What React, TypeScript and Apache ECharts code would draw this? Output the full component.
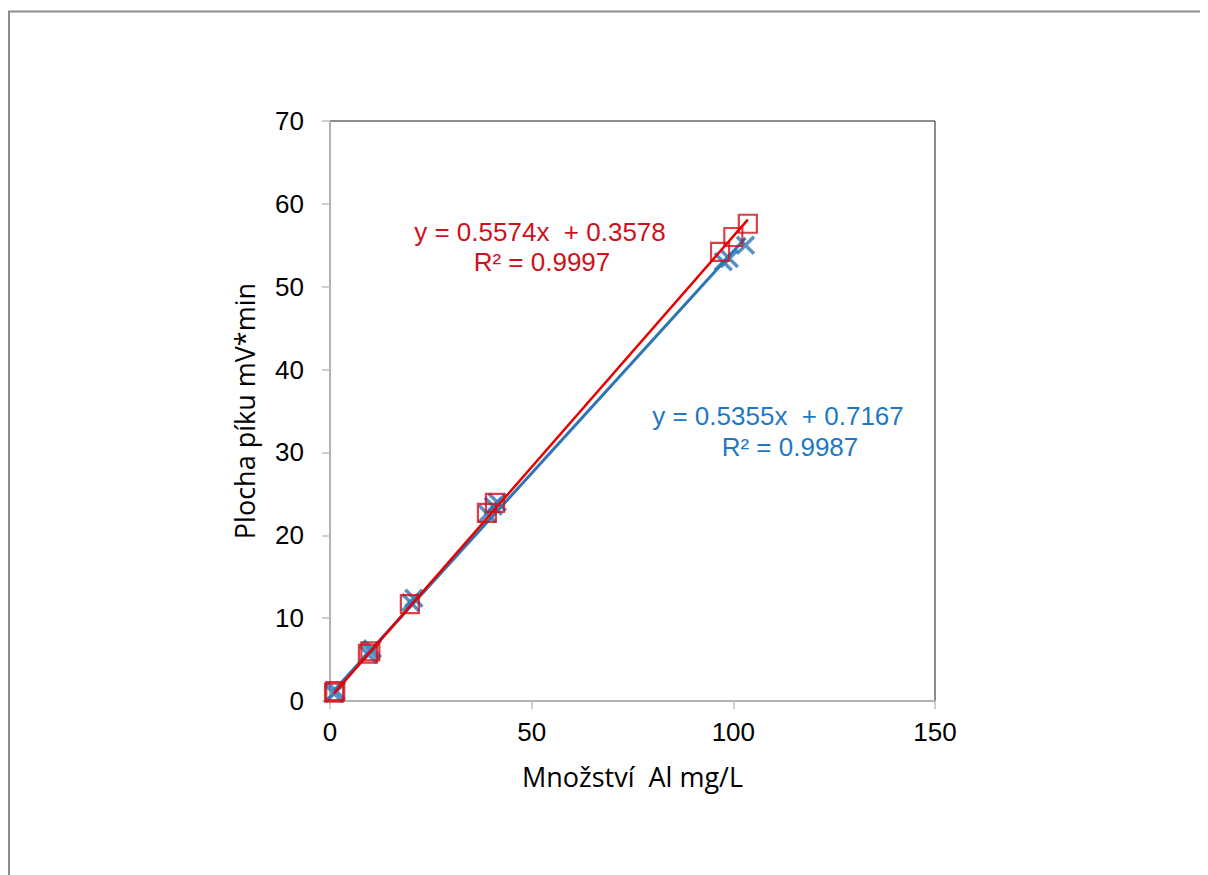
import React, { useEffect, useRef } from "react";
import * as echarts from "echarts";

// Blue series (×)
const blueX = [1.0, 1.5, 9.5, 10.0, 10.5, 20.0, 20.8, 39.0, 40.5, 41.5, 97.5, 99.0, 103.0];
const blueY = [0.9, 1.2, 5.6, 6.0, 6.3, 11.9, 12.4, 22.6, 23.5, 24.0, 53.0, 53.4, 55.0];
// Red series (□)
const redX = [1.0, 1.3, 9.4, 10.0, 19.8, 38.9, 40.9, 96.7, 100.0, 103.6];
const redY = [1.0, 1.2, 5.7, 6.0, 11.7, 22.7, 23.9, 54.2, 56.0, 57.6];

// Regression coefficients [slope, intercept]
const blueFit = [0.5355, 0.7167];
const redFit = [0.5574, 0.3578];

const blueEqn = ["y = 0.5355x  + 0.7167", "R² = 0.9987"];
const redEqn = ["y = 0.5574x  + 0.3578", "R² = 0.9997"];

const xTitle = "Množství  Al mg/L";
const yTitle = "Plocha píku mV*min";

const BLUE = "#2e75b6";
const RED = "#e80000";
const RED_MARK = "#d0101a";

function fitLine(xs: number[], fit: number[]) {
  const lo = Math.min(...xs);
  const hi = Math.max(...xs);
  return [
    [lo, fit[0] * lo + fit[1]],
    [hi, fit[0] * hi + fit[1]],
  ];
}

export default function App() {
  const ref = useRef<HTMLDivElement>(null);
  useEffect(() => {
    if (!ref.current) return;
    const chart = echarts.init(ref.current, null, { renderer: "svg" });
    const font = "'Liberation Sans', Arial, sans-serif";
    const titleFont = "'Open Sans', 'Liberation Sans', sans-serif";
    const eq = (text: string, x: number, y: number, fill: string) => ({
      type: "text",
      x,
      y,
      style: { text, fill, font: "26px " + font, align: "center", verticalAlign: "middle" },
    });
    chart.setOption({
      animation: false,
      backgroundColor: "#ffffff",
      grid: {
        left: 322,
        top: 113,
        width: 605,
        height: 580,
        show: true,
        borderColor: "#1a1a1a",
        borderWidth: 1,
        backgroundColor: "transparent",
      },
      xAxis: {
        type: "value",
        min: 0,
        max: 150,
        interval: 50,
        name: xTitle,
        nameLocation: "middle",
        nameGap: 62,
        nameTextStyle: { fontFamily: titleFont, fontSize: 27, color: "#000" },
        axisLine: { show: true, lineStyle: { color: "#bfbfbf", width: 1.5 } },
        axisTick: { show: true, inside: false, length: 8, lineStyle: { color: "#bfbfbf", width: 1.5 } },
        axisLabel: { fontFamily: font, fontSize: 26, color: "#000", margin: 18 },
        splitLine: { show: false },
      },
      yAxis: {
        type: "value",
        min: 0,
        max: 70,
        interval: 10,
        name: yTitle,
        nameLocation: "middle",
        nameGap: 72,
        nameTextStyle: { fontFamily: titleFont, fontSize: 27, color: "#000" },
        axisLine: { show: true, lineStyle: { color: "#bfbfbf", width: 1.5 } },
        axisTick: { show: true, inside: false, length: 8, lineStyle: { color: "#bfbfbf", width: 1.5 } },
        axisLabel: { fontFamily: font, fontSize: 26, color: "#000", margin: 26 },
        splitLine: { show: false },
      },
      series: [
        {
          type: "scatter",
          data: blueX.map((x, i) => [x, blueY[i]]),
          symbol: "path://M0,0L10,10M10,0L0,10",
          symbolSize: 17,
          itemStyle: { color: "none", borderColor: BLUE, borderWidth: 3.5 },
          z: 3,
        },
        {
          type: "line",
          data: fitLine(blueX, blueFit),
          showSymbol: false,
          lineStyle: { color: BLUE, width: 3 },
          z: 4,
        },
        {
          type: "scatter",
          data: redX.map((x, i) => [x, redY[i]]),
          symbol: "rect",
          symbolSize: 18,
          itemStyle: { color: "transparent", borderColor: RED_MARK, borderWidth: 2.2 },
          z: 5,
        },
        {
          type: "line",
          data: fitLine(redX, redFit),
          showSymbol: false,
          lineStyle: { color: RED, width: 2.5 },
          z: 6,
        },
      ],
      graphic: [
        { type: "line", shape: { x1: 0, y1: 3.5, x2: 1210, y2: 3.5 }, style: { stroke: "#8c8c8c", lineWidth: 2 } },
        { type: "line", shape: { x1: 1, y1: 3, x2: 1, y2: 870 }, style: { stroke: "#8c8c8c", lineWidth: 2 } },
        eq(redEqn[0], 532, 224, RED_MARK),
        eq(redEqn[1], 534, 254, RED_MARK),
        eq(blueEqn[0], 770, 408, "#1f78c4"),
        eq(blueEqn[1], 782, 439, "#1f78c4"),
      ],
    });
    return () => chart.dispose();
  }, []);
  return <div ref={ref} style={{ width: 1200, height: 867 }} />;
}
